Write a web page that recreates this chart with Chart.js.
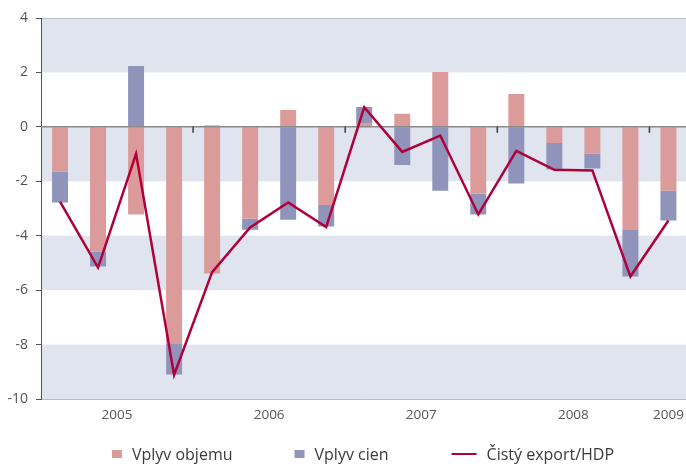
<!DOCTYPE html>
<html>
<head>
<meta charset="utf-8">
<script src="https://cdn.jsdelivr.net/npm/chart.js@4.4.1/dist/chart.umd.min.js"></script>
<style>
  html, body { margin: 0; padding: 0; background: #ffffff; overflow: hidden; }
  #wrap { position: relative; width: 686px; height: 464px; overflow: hidden; background: #ffffff; }
  #c { position: absolute; left: -30px; top: 0; }
</style>
</head>
<body>
<div id="wrap"><canvas id="c" width="722" height="474"></canvas></div>
<script>
// ---- data ----
const categories = ['2005 Q1','2005 Q2','2005 Q3','2005 Q4',
                    '2006 Q1','2006 Q2','2006 Q3','2006 Q4',
                    '2007 Q1','2007 Q2','2007 Q3','2007 Q4',
                    '2008 Q1','2008 Q2','2008 Q3','2008 Q4',
                    '2009 Q1'];
const vplyvObjemu = [-1.65, -4.58, -3.22, -7.98, -5.39, -3.38, 0.62, -2.87, 0.11, 0.48, 2.02, -2.46, 1.21, -0.59, -0.99, -3.79, -2.35];
const vplyvCien   = [-1.13, -0.55, 2.24, -1.12, 0.05, -0.40, -3.41, -0.79, 0.62, -1.40, -2.35, -0.76, -2.08, -0.98, -0.54, -1.71, -1.09];
const cistyExport = [-2.75, -5.17, -0.99, -9.12, -5.34, -3.70, -2.78, -3.68, 0.72, -0.92, -0.32, -3.22, -0.88, -1.58, -1.60, -5.50, -3.44];
const seriesNames = ['Vplyv objemu', 'Vplyv cien', 'Čistý export/HDP'];
const yMin = -10, yMax = 4, yStep = 2;

// ---- derived year groups ----
const yearOf = categories.map(c => c.slice(0, 4));
const yearLabels = [...new Set(yearOf)];
const yearCenters = yearLabels.map(y => {
  const idx = yearOf.map((v, i) => v === y ? i : -1).filter(i => i >= 0);
  return (idx[0] + idx[idx.length - 1]) / 2;
});

// ---- styles ----
const RED = '#dc9b9b', BLUE = '#9194ba', LINE = '#b0003a', BAND = '#dfe4ee';
const FONT = "'Open Sans', 'Noto Sans', sans-serif";

function makeIcon(color, kind) {
  const c = document.createElement('canvas');
  c.width = 64; c.height = 10;
  const g = c.getContext('2d');
  g.fillStyle = color;
  if (kind === 'box') g.fillRect(52, 0, 10, 8);
  else g.fillRect(37, 3, 25, 2);
  return c;
}
const icons = [makeIcon(RED, 'box'), makeIcon(BLUE, 'box'), makeIcon(LINE, 'line')];

const decor = {
  id: 'decor',
  beforeDraw(chart) {
    const { ctx, chartArea: a, scales: { y } } = chart;
    const vals = y.ticks.map(t => t.value).sort((p, q) => p - q);
    ctx.save();
    ctx.fillStyle = BAND;
    for (let i = 0; i < vals.length - 1; i += 2) {
      const t = y.getPixelForValue(vals[i + 1]), b = y.getPixelForValue(vals[i]);
      ctx.fillRect(a.left, t, a.right - a.left, b - t);
    }
    ctx.restore();
  },
  beforeDatasetDraw(chart, args) {
    if (args.meta.type !== 'line') return;
    const { ctx, chartArea: a, scales: { x, y } } = chart;
    const y0 = y.getPixelForValue(0);
    ctx.save();
    ctx.strokeStyle = '#8a8a8a';
    ctx.lineWidth = 1.5;
    ctx.beginPath(); ctx.moveTo(a.left, y0); ctx.lineTo(a.right, y0); ctx.stroke();
    ctx.strokeStyle = '#3a3a3a';
    ctx.lineWidth = 1.5;
    for (let i = 0; i < categories.length - 1; i++) {
      if (yearOf[i] !== yearOf[i + 1]) {
        const xb = (x.getPixelForValue(i) + x.getPixelForValue(i + 1)) / 2;
        ctx.beginPath(); ctx.moveTo(xb, y0); ctx.lineTo(xb, y0 + 6); ctx.stroke();
      }
    }
    ctx.restore();
  }
};

new Chart(document.getElementById('c'), {
  data: {
    labels: categories,
    datasets: [
      { type: 'bar', label: seriesNames[0], data: vplyvObjemu, backgroundColor: RED, stack: 'bars', order: 1,
        barPercentage: 0.42, categoryPercentage: 1, xAxisID: 'x', yAxisID: 'y' },
      { type: 'bar', label: seriesNames[1], data: vplyvCien, backgroundColor: BLUE, stack: 'bars', order: 2,
        barPercentage: 0.42, categoryPercentage: 1, xAxisID: 'x', yAxisID: 'y' },
      { type: 'line', label: seriesNames[2], data: cistyExport, borderColor: LINE, backgroundColor: LINE,
        borderWidth: 2.5, pointRadius: 0, tension: 0, stack: 'line', order: 0, xAxisID: 'x', yAxisID: 'y' }
    ]
  },
  options: {
    responsive: false,
    devicePixelRatio: 1,
    animation: false,
    layout: { padding: { left: 15, right: 3, top: 18, bottom: 1 } },
    scales: {
      x: { type: 'category', display: false, stacked: true, offset: true },
      x2: {
        type: 'linear', position: 'bottom', min: -0.5, max: categories.length - 0.5,
        grid: { display: false, drawTicks: false }, border: { display: false },
        afterBuildTicks: s => { s.ticks = yearCenters.map(v => ({ value: v })); },
        ticks: { callback: (v, i) => yearLabels[i], font: { family: FONT, size: 13.5 }, color: '#555',
                 padding: 8, maxRotation: 0, autoSkip: false },
        afterFit: s => { s.height = 38; }
      },
      y: {
        stacked: true, min: yMin, max: yMax,
        ticks: { stepSize: yStep, font: { family: FONT, size: 14 }, color: '#555', padding: 8 },
        grid: {
          color: c => (c.tick && (c.tick.value === yMax || c.tick.value === yMin)) ? '#bcbcbc' : 'rgba(0,0,0,0)',
          tickColor: '#555', tickLength: 5, lineWidth: 1
        },
        border: { color: '#555', width: 1 },
        afterFit: s => { s.width = 56; }
      }
    },
    plugins: {
      tooltip: { enabled: false },
      legend: {
        position: 'bottom', align: 'center',
        labels: {
          usePointStyle: true, pointStyleWidth: 64, boxHeight: 8, padding: 10,
          font: { family: FONT, size: 16 }, color: '#3a3a3a',
          sort: (a, b) => a.datasetIndex - b.datasetIndex,
          generateLabels(chart) {
            const items = Chart.defaults.plugins.legend.labels.generateLabels(chart);
            items.forEach(it => {
              it.pointStyle = icons[it.datasetIndex];
              if (it.datasetIndex === 1) it.text = it.text + '\u2003';
            });
            return items;
          }
        }
      }
    }
  },
  plugins: [decor]
});
</script>
</body>
</html>
